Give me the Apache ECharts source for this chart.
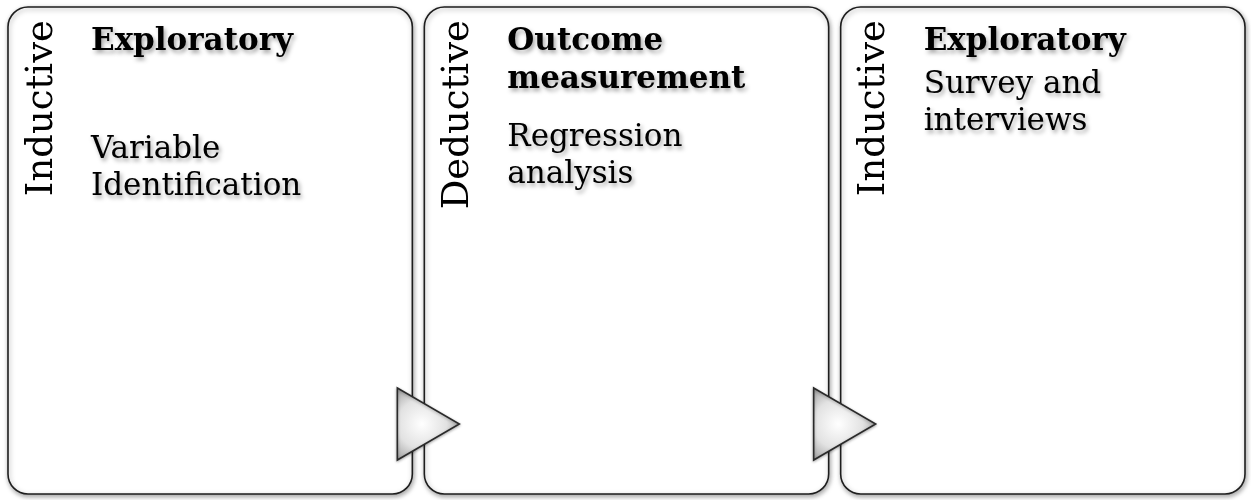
<!DOCTYPE html>
<html lang="en">
<head>
<meta charset="UTF-8">
<title>Research stages</title>
<script src="https://cdn.jsdelivr.net/npm/echarts@6/dist/echarts.min.js"></script>
<style>
    html, body { margin: 0; padding: 0; background: #fff; }
    #chart { width: 1251px; height: 500px; }
</style>
</head>
<body>
<div id="chart"></div>
<script>
    // stage data
    const stages = ['Stage 1', 'Stage 2', 'Stage 3'];
    const approaches = ['Inductive', 'Deductive', 'Inductive'];
    const titles = ['Exploratory', 'Outcome\nmeasurement', 'Exploratory'];
    const methods = ['Variable\nIdentification', 'Regression\nanalysis', 'Survey and\ninterviews'];
    // arrows between consecutive stages
    const links = [[0, 1], [1, 2]];

    // layout: offset of the method text below box top (px)
    const methodOffset = [124, 112, 59];

    const FONT = '"DejaVu Serif", "Liberation Serif", serif';
    const shadowText = {
        textShadowColor: 'rgba(0,0,0,0.35)',
        textShadowBlur: 4,
        textShadowOffsetX: 2,
        textShadowOffsetY: 3
    };
    const GAP = 12;

    const chart = echarts.init(document.getElementById('chart'));

    function boxGeom(api, i) {
        const top = api.coord([i, 1]);
        const bottom = api.coord([i, 0]);
        const w = api.size([1, 0])[0] - GAP;
        return { x: top[0] - w / 2, y: top[1], w: w, h: bottom[1] - top[1] };
    }

    function renderBox(params, api) {
        const i = api.value(0);
        const b = boxGeom(api, i);
        return {
            type: 'group',
            children: [
                {
                    type: 'rect',
                    shape: { x: b.x, y: b.y, width: b.w, height: b.h, r: 20 },
                    style: {
                        fill: '#fff', stroke: '#1e1e1e', lineWidth: 1.6,
                        shadowColor: 'rgba(0,0,0,0.35)', shadowBlur: 5,
                        shadowOffsetX: 1, shadowOffsetY: 2
                    }
                },
                {
                    type: 'text',
                    x: b.x + 34, y: b.y + 13,
                    rotation: Math.PI / 2,
                    style: {
                        text: approaches[i], font: '37px ' + FONT, fill: '#000',
                        align: 'right', verticalAlign: 'middle'
                    }
                },
                {
                    type: 'text',
                    x: b.x + 83, y: b.y + 16,
                    style: Object.assign({
                        text: titles[i], font: 'bold 31px ' + FONT, lineHeight: 38,
                        fill: '#000', verticalAlign: 'top'
                    }, shadowText)
                },
                {
                    type: 'text',
                    x: b.x + 83, y: b.y + methodOffset[i],
                    style: Object.assign({
                        text: methods[i], font: '31px ' + FONT, lineHeight: 37,
                        fill: '#000', verticalAlign: 'top'
                    }, shadowText)
                }
            ]
        };
    }

    function renderArrow(params, api) {
        const a = boxGeom(api, api.value(0));
        const b = boxGeom(api, api.value(1));
        const left = a.x + a.w - 15;
        const tip = b.x + 35;
        const cy = a.y + a.h - 70;
        const half = 36;
        return {
            type: 'polygon',
            shape: { points: [[left, cy - half], [tip, cy], [left, cy + half]] },
            style: {
                fill: {
                    type: 'radial', x: 0.4, y: 0.5, r: 0.7,
                    colorStops: [
                        { offset: 0, color: '#ffffff' },
                        { offset: 0.55, color: '#e2e2e2' },
                        { offset: 1, color: '#9c9c9c' }
                    ]
                },
                stroke: '#2a2a2a', lineWidth: 1.6,
                shadowColor: 'rgba(0,0,0,0.3)', shadowBlur: 3, shadowOffsetY: 1
            }
        };
    }

    chart.setOption({
        animation: false,
        grid: { left: 2, right: 0, top: 7, bottom: 6 },
        xAxis: { type: 'category', data: stages, show: false },
        yAxis: { type: 'value', min: 0, max: 1, show: false },
        series: [
            {
                type: 'custom',
                renderItem: renderBox,
                clip: false,
                data: stages.map((s, i) => [i, 1])
            },
            {
                type: 'custom',
                renderItem: renderArrow,
                clip: false,
                z: 3,
                data: links
            }
        ]
    });
</script>
</body>
</html>
